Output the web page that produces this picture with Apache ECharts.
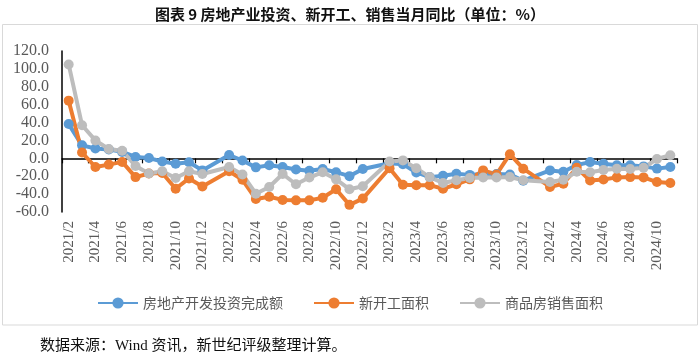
<!DOCTYPE html>
<html>
<head>
<meta charset="utf-8">
<script src="https://cdn.jsdelivr.net/npm/echarts@6/dist/echarts.min.js"></script>
<style>
html,body{margin:0;padding:0;background:#fff;}
#c{width:700px;height:356px;}
</style>
</head>
<body>
<div id="c"></div>
<script>
const categories = [
 '2021/2','2021/3','2021/4','2021/5','2021/6','2021/7','2021/8','2021/9','2021/10','2021/11','2021/12',
 '2022/1','2022/2','2022/3','2022/4','2022/5','2022/6','2022/7','2022/8','2022/9','2022/10','2022/11','2022/12',
 '2023/1','2023/2','2023/3','2023/4','2023/5','2023/6','2023/7','2023/8','2023/9','2023/10','2023/11','2023/12',
 '2024/1','2024/2','2024/3','2024/4','2024/5','2024/6','2024/7','2024/8','2024/9','2024/10','2024/11'
];
const investment = [
 38.3, 14.5, 11.0, 9.8, 7.2, 1.5, 0.3, -3.5, -6.0, -4.3, -13.5,
 null, 3.7, -2.4, -10.1, -7.8, -9.6, -12.5, -14.0, -12.0, -15.5, -19.9, -12.0,
 null, -5.5, -6.5, -15.8, -21.0, -19.5, -17.2, -18.5, -17.2, -17.5, -18.0, -25.0,
 null, -13.5, -15.0, -7.5, -4.2, -6.0, -7.8, -7.8, -9.0, -11.5, -9.7
];
const newStarts = [
 64.5, 6.5, -9.7, -7.0, -4.0, -21.0, -17.0, -16.4, -34.0, -22.5, -31.5,
 null, -14.5, -24.0, -45.5, -43.0, -46.5, -47.0, -47.0, -44.0, -34.5, -52.0, -45.0,
 null, -11.0, -29.5, -30.0, -30.0, -34.0, -29.0, -23.5, -13.5, -18.0, 4.6, -11.6,
 null, -32.0, -28.3, -10.5, -24.8, -23.7, -21.3, -21.0, -21.3, -26.5, -27.6
];
const sales = [
 105.0, 37.0, 20.0, 10.5, 8.5, -8.5, -17.0, -14.5, -22.0, -14.5, -17.5,
 null, -9.7, -18.0, -39.5, -32.0, -17.5, -29.0, -21.5, -15.5, -23.5, -34.5, -31.3,
 null, -3.5, -2.3, -11.0, -21.0, -27.6, -24.5, -22.0, -21.5, -21.5, -21.0, -24.5,
 null, -26.5, -24.0, -15.0, -15.5, -13.0, -11.6, -12.0, -10.5, -0.8, 3.4
];
const seriesNames = ['房地产开发投资完成额', '新开工面积', '商品房销售面积'];
const colors = ['#5B9BD5', '#ED7D31', '#BDBDBD'];
const titleText = '图表 9 房地产业投资、新开工、销售当月同比（单位：%）';
const sourceText = '数据来源：Wind 资讯，新世纪评级整理计算。';

const chart = echarts.init(document.getElementById('c'), null, {renderer: 'canvas'});
const mk = (name, data, color) => ({
  name: name, type: 'line', data: data, connectNulls: true,
  xAxisIndex: 0, yAxisIndex: 0,
  symbol: 'circle', symbolSize: 10, showSymbol: true, showAllSymbol: true,
  lineStyle: {width: 4, color: color},
  itemStyle: {color: color},
  emphasis: {disabled: true},
  animation: false
});
chart.setOption({
  animation: false,
  color: colors,
  title: {
    text: titleText, left: 'center', top: 2,
    textStyle: {fontFamily: 'Noto Sans CJK SC', fontSize: 15, fontWeight: 'bold', color: '#111'}
  },
  legend: {
    data: seriesNames, left: 'center', top: 291,
    itemWidth: 40, itemHeight: 14, itemGap: 30,
    textStyle: {fontFamily: 'Noto Sans CJK SC', fontSize: 14, color: '#595959'}
  },
  graphic: [
    {type: 'rect', shape: {x: 2.5, y: 24.5, width: 695, height: 300.5},
     style: {fill: 'none', stroke: '#d9d9d9', lineWidth: 1}, z: -1},
    {type: 'text', left: 40, top: 339,
     style: {text: sourceText, font: '15px "Liberation Serif", "Noto Sans CJK SC"', fill: '#111'}}
  ],
  grid: {left: 62, right: 23, top: 51, bottom: 144, containLabel: false},
  xAxis: [
    {type: 'category', data: categories, boundaryGap: true,
     axisLine: {onZero: true, lineStyle: {color: '#000', width: 1.5}},
     axisTick: {show: true, interval: 1, length: 5, lineStyle: {color: '#000', width: 1.2}},
     axisLabel: {show: false}, splitLine: {show: false}},
    {type: 'category', data: categories, boundaryGap: true, position: 'bottom',
     axisLine: {show: false, onZero: false}, axisTick: {show: false},
     axisLabel: {show: true, interval: 1, rotate: 90, margin: 9,
       fontFamily: 'Liberation Serif', fontSize: 15, color: '#595959'},
     splitLine: {show: false}}
  ],
  yAxis: {
    type: 'value', min: -60, max: 120, interval: 20,
    axisLine: {show: true, lineStyle: {color: '#000', width: 1.5}},
    axisTick: {show: false},
    splitLine: {show: false},
    axisLabel: {formatter: v => v.toFixed(1), margin: 13,
      fontFamily: 'Liberation Serif', fontSize: 16, color: '#595959'}
  },
  series: [
    mk(seriesNames[0], investment, colors[0]),
    mk(seriesNames[1], newStarts, colors[1]),
    mk(seriesNames[2], sales, colors[2])
  ]
});
</script>
</body>
</html>
